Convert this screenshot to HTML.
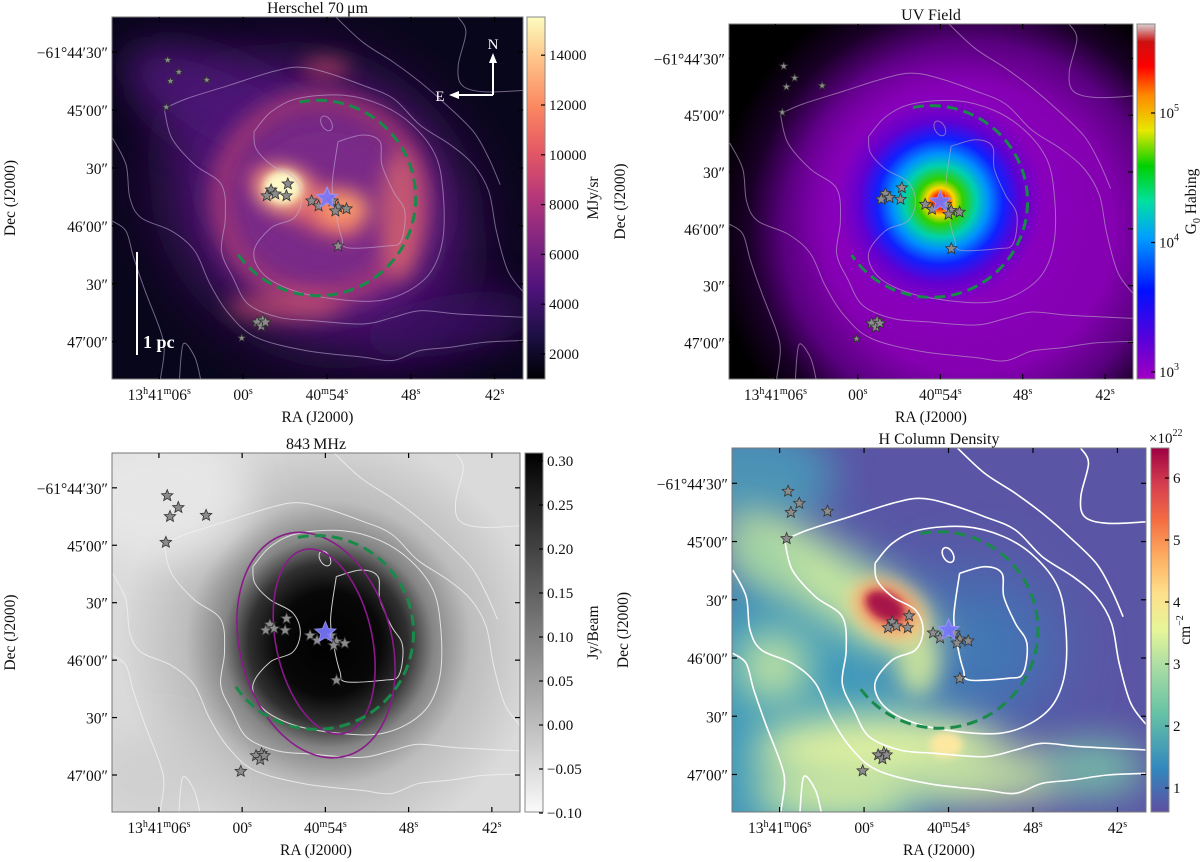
<!DOCTYPE html>
<html><head><meta charset="utf-8">
<style>
html,body{margin:0;padding:0;background:#fff;}
svg{display:block;font-family:"Liberation Serif",serif;}
</style></head>
<body>
<svg id="fig" width="1200" height="862" viewBox="0 0 1200 862" xmlns="http://www.w3.org/2000/svg">
<defs>
<filter id="b4" filterUnits="userSpaceOnUse" x="-500" y="-500" width="2000" height="2000"><feGaussianBlur stdDeviation="4"/></filter>
<filter id="b10" filterUnits="userSpaceOnUse" x="-500" y="-500" width="2000" height="2000"><feGaussianBlur stdDeviation="10"/></filter>
<filter id="b20" filterUnits="userSpaceOnUse" x="-500" y="-500" width="2000" height="2000"><feGaussianBlur stdDeviation="20"/></filter>
<filter id="b35" filterUnits="userSpaceOnUse" x="-500" y="-500" width="2000" height="2000"><feGaussianBlur stdDeviation="35"/></filter>
<linearGradient id="cmMagma" x1="0" y1="1" x2="0" y2="0">
<stop offset="0" stop-color="#000004"/><stop offset=".12" stop-color="#1c1044"/><stop offset=".25" stop-color="#4f127b"/><stop offset=".38" stop-color="#812581"/><stop offset=".5" stop-color="#b5367a"/><stop offset=".63" stop-color="#e55964"/><stop offset=".75" stop-color="#fb8761"/><stop offset=".88" stop-color="#fec287"/><stop offset="1" stop-color="#fcfdbf"/>
</linearGradient>
<linearGradient id="cmRain" x1="0" y1="1" x2="0" y2="0">
<stop offset="0" stop-color="#a000c0"/><stop offset=".1" stop-color="#6000d8"/><stop offset=".25" stop-color="#0010ff"/><stop offset=".4" stop-color="#00a0ff"/><stop offset=".5" stop-color="#00e0a0"/><stop offset=".6" stop-color="#00d000"/><stop offset=".7" stop-color="#e8e800"/><stop offset=".8" stop-color="#ff8800"/><stop offset=".88" stop-color="#ff0000"/><stop offset=".95" stop-color="#cc1010"/><stop offset="1" stop-color="#d8d0d0"/>
</linearGradient>
<linearGradient id="cmGray" x1="0" y1="1" x2="0" y2="0">
<stop offset="0" stop-color="#fafafa"/><stop offset="1" stop-color="#000"/>
</linearGradient>
<linearGradient id="cmSpec" x1="0" y1="1" x2="0" y2="0">
<stop offset="0" stop-color="#5e4fa2"/><stop offset=".12" stop-color="#3288bd"/><stop offset=".27" stop-color="#66c2a5"/><stop offset=".4" stop-color="#abdda4"/><stop offset=".5" stop-color="#e6f598"/><stop offset=".6" stop-color="#fee08b"/><stop offset=".7" stop-color="#fdae61"/><stop offset=".8" stop-color="#f46d43"/><stop offset=".9" stop-color="#d53e4f"/><stop offset="1" stop-color="#9e0142"/>
</linearGradient>
<radialGradient id="uvGrad" gradientUnits="userSpaceOnUse" cx="211" cy="181" r="150">
<stop offset="0" stop-color="#e00000"/><stop offset=".05" stop-color="#ff3000"/><stop offset=".09" stop-color="#ffd800"/><stop offset=".15" stop-color="#30d000"/><stop offset=".24" stop-color="#00d0b0"/><stop offset=".32" stop-color="#0090ff"/><stop offset=".42" stop-color="#1020ff"/><stop offset=".54" stop-color="#6000d0"/><stop offset=".7" stop-color="#8a00c0" stop-opacity=".6"/><stop offset="1" stop-color="#8a00c0" stop-opacity="0"/>
</radialGradient>
<radialGradient id="uvPurple" gradientUnits="userSpaceOnUse" cx="240" cy="210" r="260">
<stop offset="0" stop-color="#8a00c0"/><stop offset=".55" stop-color="#8400b0"/><stop offset=".72" stop-color="#5a0080"/><stop offset=".86" stop-color="#1a0028"/><stop offset="1" stop-color="#000"/>
</radialGradient>
<radialGradient id="grayGrad" gradientUnits="userSpaceOnUse" cx="212" cy="190" r="210">
<stop offset="0" stop-color="#000"/><stop offset=".25" stop-color="#080808"/><stop offset=".38" stop-color="#303030"/><stop offset=".5" stop-color="#858585"/><stop offset=".68" stop-color="#bdbdbd"/><stop offset="1" stop-color="#dadada"/>
</radialGradient>
</defs>
</svg>
<script>
// ---- data ----
const RA_TICKS = [66, 60, 54, 48, 42];
const RA_LABELS = [['13','h','41','m','06','s'],['00','s'],['40','m','54','s'],['48','s'],['42','s']];
const DEC_TICKS = [30, 60, 90, 120, 150, 180];
const DEC_LABELS = ['\u221261\u00b044\u203230\u2033','45\u203200\u2033','30\u2033','46\u203200\u2033','30\u2033','47\u203200\u2033'];
const STAR_RA = [65.4,64.6,65.2,62.6,65.5,58.0,58.3,57.7,56.8,56.9,55.1,54.6,53.6,53.2,53.4,52.6,53.2,58.6,59.0,58.7,58.4,60.1];
const STAR_DEC = [34.1,40.3,45.0,44.4,58.5,101.4,104.4,103.5,98.3,104.4,107.1,109.7,107.1,110.3,112.3,111.2,130.5,168.8,169.9,171.9,169.9,178.1];
const MAIN_RA = 54.0, MAIN_DEC = 105.6;
const CB1_TICKS = [2000,4000,6000,8000,10000,12000,14000];
const CB2_TICKS = [3,4,5];
const CB3_TICKS = [-0.10,-0.05,0.00,0.05,0.10,0.15,0.20,0.25,0.30];
const CB4_TICKS = [1,2,3,4,5,6];

const NS='http://www.w3.org/2000/svg';
const fig=document.getElementById('fig');
function el(tag,attrs,parent){const e=document.createElementNS(NS,tag);for(const k in attrs)e.setAttribute(k,attrs[k]);(parent||fig).appendChild(e);return e;}
function xN(ra){return 0.523+(54-ra)*0.034;}
function yN(dec){return 0.097+(dec-30)*0.005333;}

const CONT=[
 [[935,430],[1000,410],[1045,430],[1050,500],[1080,580],[1110,640],[1100,730],[1060,745],[960,750],[945,720],[930,650],[920,560],[935,430]],
 [[715,400],[760,340],[830,300],[950,290],[1050,320],[1130,380],[1190,470],[1210,580],[1210,720],[1180,820],[1120,880],[1040,910],[930,905],[820,880],[740,830],[715,760],[760,690],[820,660],[840,600],[820,540],[760,500],[720,450],[715,400]],
 [[480,330],[540,300],[650,260],[760,220],[830,205],[900,220],[1000,260],[1080,300],[1150,380],[1230,440],[1290,500],[1330,580],[1350,700],[1380,820],[1425,890]],
 [[480,330],[500,420],[560,500],[630,560],[640,660],[630,760],[660,840],[700,920],[780,960],[870,970],[1000,980],[1080,960],[1150,940],[1250,950],[1425,960]],
 [[930,55],[1000,130],[1080,190],[1150,250],[1220,320],[1290,400],[1330,480],[1360,560]],
 [[345,420],[380,500],[390,600],[420,660],[500,700],[560,760],[600,860],[650,950],[720,1020],[850,1060],[1000,1080],[1080,1090],[1150,1060],[1230,1050],[1320,1035],[1425,1030]],
 [[1250,55],[1270,100],[1250,200],[1260,260],[1320,280],[1425,275]],
 [[345,670],[380,700],[400,780],[430,880],[470,1000],[480,1060],[470,1145]],
 [[520,1145],[530,1040],[560,1080],[575,1145]]
];
function cN(p){return [((p[0]/2.6+600)-732)/414, ((p[1]/3+430)-448)/364];}
function smoothPath(pts){
 let d='M'+pts[0][0].toFixed(1)+','+pts[0][1].toFixed(1);
 for(let i=0;i<pts.length-1;i++){
  const p0=pts[Math.max(0,i-1)],p1=pts[i],p2=pts[i+1],p3=pts[Math.min(pts.length-1,i+2)];
  const c1=[p1[0]+(p2[0]-p0[0])/6,p1[1]+(p2[1]-p0[1])/6],c2=[p2[0]-(p3[0]-p1[0])/6,p2[1]-(p3[1]-p1[1])/6];
  d+=' C'+c1.map(v=>v.toFixed(1)).join(',')+' '+c2.map(v=>v.toFixed(1)).join(',')+' '+p2[0].toFixed(1)+','+p2[1].toFixed(1);
 }
 return d;
}
function starPath(cx,cy,r){
 let d='';for(let i=0;i<10;i++){const a=-Math.PI/2+i*Math.PI/5;const rr=i%2?r*0.45:r;d+=(i?'L':'M')+(cx+rr*Math.cos(a)).toFixed(1)+','+(cy+rr*Math.sin(a)).toFixed(1);}return d+'Z';
}

const panels=[
 {id:'herschel',x:112,y:17,w:411,h:362,cb:[527,545],title:'Herschel 70\u2009\u03bcm',contour:'rgba(200,180,220,0.55)',cw:1},
 {id:'uv',x:729,y:24,w:404,h:355,cb:[1137,1155],title:'UV Field',contour:'rgba(190,170,200,0.6)',cw:1},
 {id:'radio',x:112,y:453,w:408,h:359,cb:[525,543],title:'843\u2009MHz',contour:'rgba(240,240,240,0.85)',cw:1},
 {id:'coldens',x:732,y:448,w:414,h:364,cb:[1151,1169],title:'H Column Density',contour:'#ffffff',cw:1.6}
];

function E(g,u,v,rx,ry,rot,fill,filt,op,P){
 const e=el('ellipse',{cx:u*P.w,cy:v*P.h,rx:rx*P.w,ry:ry*P.h,fill:fill,transform:'rotate('+rot+' '+u*P.w+' '+v*P.h+')'},g);
 if(filt)e.setAttribute('filter','url(#'+filt+')');
 if(op!=null)e.setAttribute('opacity',op);
 return e;
}

panels.forEach((P,pi)=>{
 const cp=el('clipPath',{id:'clip'+pi},fig.querySelector('defs'));
 el('rect',{x:0,y:0,width:P.w,height:P.h},cp);
 const g=el('g',{transform:'translate('+P.x+','+P.y+')'});
 
 
 const img=el('g',{'clip-path':'url(#clip'+pi+')'},g);
 
 
 const cu=xN(MAIN_RA),cv=yN(MAIN_DEC);
 if(pi===0){
  el('rect',{x:0,y:0,width:P.w,height:P.h,fill:'#08061a'},img);
  E(img,.5,.52,.4,.36,40,'#52187a','b35',1,P);
  E(img,.3,.27,.3,.13,28,'#4d1878','b20',.9,P);
  E(img,.82,.85,.22,.08,-10,'#40106a','b20',.8,P);
  E(img,.52,.52,.26,.28,0,'#7a2a88','b20',1,P);
  el('ellipse',{cx:.505*P.w,cy:.5*P.h,rx:.24*P.w,ry:.27*P.h,fill:'none',stroke:'#c84570','stroke-width':16,filter:'url(#b10)',opacity:.7},img);
  E(img,.7,.55,.05,.18,0,'#e06a6a','b10',.7,P);
  E(img,.42,.8,.14,.04,0,'#d85a6c','b10',.6,P);
  E(img,.52,.14,.06,.025,0,'#d8506a','b10',.7,P);
  E(img,.47,.51,.15,.06,28,'#e0606c','b10',.9,P);
  E(img,.56,.53,.065,.05,0,'#fb9a6a','b10',1,P);
  E(img,.415,.475,.06,.055,0,'#fcc890','b10',1,P);
  E(img,.415,.47,.045,.045,0,'#fcf8c8','b4',1,P);
 } else if(pi===1){
  el('rect',{x:0,y:0,width:P.w,height:P.h,fill:'#000'},img);
  const pg=document.getElementById('uvPurple');
  pg.setAttribute('cx',.6*P.w);pg.setAttribute('cy',.58*P.h);
  el('rect',{x:0,y:0,width:P.w,height:P.h,fill:'url(#uvPurple)'},img);
  const ug=document.getElementById('uvGrad');
  ug.setAttribute('cx',cu*P.w);ug.setAttribute('cy',cv*P.h);
  el('rect',{x:0,y:0,width:P.w,height:P.h,fill:'url(#uvGrad)'},img);
 } else if(pi===2){
  el('rect',{x:0,y:0,width:P.w,height:P.h,fill:'#dcdcdc'},img);
  const gg=document.getElementById('grayGrad');
  gg.setAttribute('cx',.53*P.w);gg.setAttribute('cy',.53*P.h);
  el('rect',{x:0,y:0,width:P.w,height:P.h,fill:'url(#grayGrad)'},img);
  E(img,.12,.12,.22,.18,0,'#e8e8e8','b20',.9,P);
  E(img,.1,.9,.15,.12,0,'#c8c8c8','b20',.6,P);
 } else {
  el('rect',{x:0,y:0,width:P.w,height:P.h,fill:'#5a55a5'},img);
  E(img,.15,.75,.4,.45,0,'#3c98bb','b35',1,P);
  E(img,.05,.08,.2,.15,0,'#4a9ab8','b20',.9,P);
  E(img,.6,.55,.18,.2,0,'#3f78b6','b35',1,P);
  E(img,.25,.38,.3,.09,33,'#c8e8a0','b20',1,P);
  E(img,.07,.3,.1,.06,30,'#a0d8a4','b20',1,P);
  E(img,.35,.83,.3,.1,0,'#dff0a0','b20',1,P);
  E(img,.1,.6,.09,.1,0,'#c8e8a0','b20',.9,P);
  E(img,.25,.95,.2,.08,0,'#d8ee9e','b20',.9,P);
  E(img,.62,.9,.2,.08,0,'#c8e6a0','b20',.9,P);
  E(img,.88,.88,.12,.08,0,'#78c4a8','b20',.9,P);
  E(img,.45,.6,.05,.08,0,'#d8ee9a','b10',.8,P);
  E(img,.38,.45,.1,.075,30,'#fde08a','b10',1,P);
  E(img,.375,.44,.07,.05,30,'#e85a48','b10',1,P);
  E(img,.37,.435,.05,.035,30,'#a8124a','b4',1,P);
  E(img,.517,.816,.04,.035,0,'#fde8a0','b4',1,P);
 }
 CONT.forEach((c,ci)=>{
  const pts=c.map(cN).map(p=>[p[0]*P.w,p[1]*P.h]);
  const pth=el('path',{d:smoothPath(pts),fill:'none',stroke:P.contour,'stroke-width':P.cw},img);
  
  
 });
 const sm=cN([905,375]);
 el('ellipse',{cx:sm[0]*P.w,cy:sm[1]*P.h,rx:5,ry:8,fill:'none',stroke:P.contour,'stroke-width':P.cw,transform:'rotate(-30 '+sm[0]*P.w+' '+sm[1]*P.h+')'},img);
 if(pi===2){
  const o1=el('ellipse',{cx:.5*P.w,cy:.535*P.h,rx:.186*P.w,ry:.32*P.h,fill:'none',stroke:'#8a1a8a','stroke-width':1.6,transform:'rotate(-15 '+.5*P.w+' '+.535*P.h+')'},img);
  
  const o2=el('ellipse',{cx:.52*P.w,cy:.525*P.h,rx:.118*P.w,ry:.262*P.h,fill:'none',stroke:'#8a1a8a','stroke-width':1.6,transform:'rotate(-12 '+.52*P.w+' '+.525*P.h+')'},img);
  
 }
 const acx=.501*P.w,acy=.5*P.h,arx=.238*P.w,ary=.27*P.h;
 const a0=-101*Math.PI/180,a1=146*Math.PI/180;
 const arc=el('path',{d:'M'+(acx+arx*Math.cos(a0))+','+(acy+ary*Math.sin(a0))+' A'+arx+','+ary+' 0 1 1 '+(acx+arx*Math.cos(a1))+','+(acy+ary*Math.sin(a1)),fill:'none',stroke:'#1a8a4a','stroke-width':3,'stroke-dasharray':'11 6'},img);
 
 
 for(let i=0;i<STAR_RA.length;i++){
  const s=el('path',{d:starPath(xN(STAR_RA[i])*P.w,yN(STAR_DEC[i])*P.h,(i<5||i===21)&&pi<2?4:6),fill:'#8c8c8c',stroke:'#333','stroke-width':0.8},img);
  
  
 }
 const ms=el('path',{d:starPath(cu*P.w,cv*P.h,11),fill:'#7a78ff',stroke:'#9a98ff','stroke-width':1,opacity:.9},img);
 
 
 if(pi===0){
  const cmp=el('g',{},img);
  const ax=381,ay=78;
  el('path',{d:'M'+ax+','+ay+' L'+ax+','+(ay-34)+' M'+ax+','+ay+' L'+(ax-36)+','+ay,stroke:'#fff','stroke-width':2,fill:'none'},cmp);
  el('path',{d:'M'+(ax-4)+','+(ay-32)+' L'+ax+','+(ay-42)+' L'+(ax+4)+','+(ay-32)+'Z',fill:'#fff'},cmp);
  el('path',{d:'M'+(ax-34)+','+(ay-4)+' L'+(ax-44)+','+ay+' L'+(ax-34)+','+(ay+4)+'Z',fill:'#fff'},cmp);
  const tn=el('text',{x:ax,y:ay-46,'text-anchor':'middle',fill:'#fff','font-size':15},cmp);tn.textContent='N';
  const te=el('text',{x:ax-53,y:ay+6,'text-anchor':'middle',fill:'#fff','font-size':15},cmp);te.textContent='E';
  el('line',{x1:25,y1:235,x2:25,y2:338,stroke:'#fff','stroke-width':2},img);
  const sb=el('text',{x:31,y:331,fill:'#fff','font-size':18,'font-weight':'bold'},img);sb.textContent='1 pc';
  
 }
 el('rect',{x:0,y:0,width:P.w,height:P.h,fill:'none',stroke:'#777','stroke-width':1},g);
 RA_TICKS.forEach((ra,i)=>{
  const x=xN(ra)*P.w;
  el('line',{x1:x,y1:P.h,x2:x,y2:P.h-5,stroke:'#000','stroke-width':1.2},g);
  el('line',{x1:x,y1:0,x2:x,y2:5,stroke:'#000','stroke-width':1.2},g);
  const t=el('text',{x:x,y:P.h+21,'text-anchor':'middle','font-size':15.5,fill:'#111'},g);
  
  
  RA_LABELS[i].forEach((s,k)=>{const ts=el('tspan',k%2?{'font-size':10,dy:-6}:{'font-size':15.5,dy:k?6:0},t);ts.textContent=s;});
 });
 DEC_TICKS.forEach((d,i)=>{
  const y=yN(d)*P.h;
  el('line',{x1:0,y1:y,x2:5,y2:y,stroke:'#000','stroke-width':1.2},g);
  el('line',{x1:P.w,y1:y,x2:P.w-5,y2:y,stroke:'#000','stroke-width':1.2},g);
  const t=el('text',{x:-4,y:y+6,'text-anchor':'end','font-size':15.5,fill:'#111'},g);
  t.textContent=DEC_LABELS[i];
  
  
 });
 const tt=el('text',{x:P.w/2,y:-4,'text-anchor':'middle','font-size':16,fill:'#111'},g);tt.textContent=P.title;
 
 const xl=el('text',{x:P.w/2,y:P.h+43,'text-anchor':'middle','font-size':15.5,fill:'#111'},g);xl.textContent='RA (J2000)';
 
 const yl=el('text',{x:0,y:0,'text-anchor':'middle','font-size':15.5,fill:'#111',transform:'translate('+(-(P.x<300?97:104))+','+(P.h/2)+') rotate(-90)'},g);yl.textContent='Dec (J2000)';
 
});

function colorbar(P,grad,ticks,scale,fmt,label,labelX){
 const [x0,x1]=P.cb;
 const g=el('g',{});
 
 
 el('rect',{x:x0,y:P.y,width:x1-x0,height:P.h,fill:'url(#'+grad+')',stroke:'#888','stroke-width':1},g);
 ticks.forEach(v=>{
  const y=scale(v);
  el('line',{x1:x1-4,y1:y,x2:x1,y2:y,stroke:'#000','stroke-width':1.2},g);
  const t=el('text',{x:x1+4,y:y+5,'font-size':15,fill:'#111'},g);
  fmt(t,v);
  
  
 });
 const l=el('text',{x:0,y:0,'text-anchor':'middle','font-size':15.5,fill:'#111',transform:'translate('+labelX+','+(P.y+P.h/2)+') rotate(-90)'},g);
 l.innerHTML=label;
 
 
}
colorbar(panels[0],'cmMagma',CB1_TICKS,v=>354-(v-2000)/2000*49.8,(t,v)=>t.textContent=v,'MJy/sr',598);
colorbar(panels[1],'cmRain',CB2_TICKS,v=>372-(v-3)*129.5,(t,v)=>{t.innerHTML='10<tspan font-size="10" dy="-7">'+v+'</tspan>';},'G<tspan font-size="10" dy="4">0</tspan><tspan dy="-4"> Habing</tspan>',1196);
colorbar(panels[2],'cmGray',CB3_TICKS,v=>813-(v+0.10)/0.05*44,(t,v)=>t.textContent=(v<0?'\u2212':'')+Math.abs(v).toFixed(2),'Jy/Beam',598);
colorbar(panels[3],'cmSpec',CB4_TICKS,v=>788-(v-1)*62,(t,v)=>t.textContent=v,'cm<tspan font-size="10" dy="-7">\u22122</tspan>',1190);
const ex=el('text',{x:1149,y:443,'font-size':15,fill:'#111'});
ex.innerHTML='\u00d710<tspan font-size="10" dy="-7">22</tspan>';


</script>
</body></html>
